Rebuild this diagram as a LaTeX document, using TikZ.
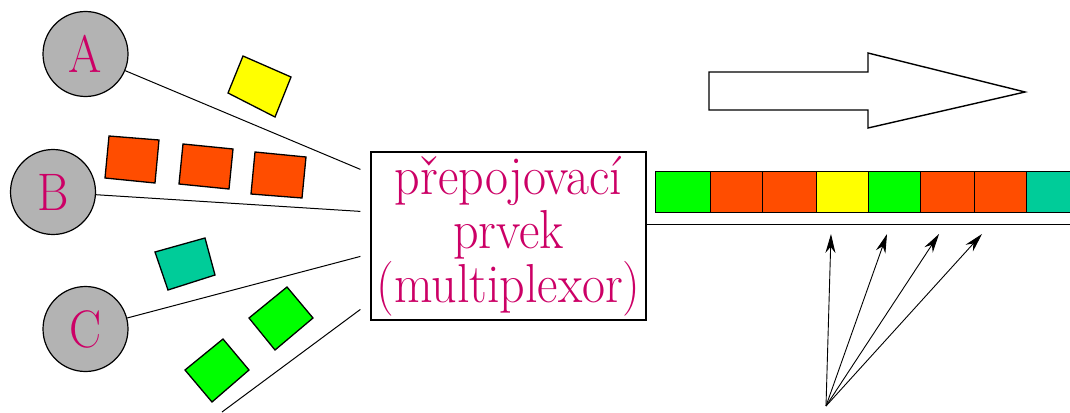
\documentclass[tikz,border=0pt]{standalone}
\usetikzlibrary{arrows.meta,calc}
\definecolor{txtmag}{HTML}{CC0066}
\definecolor{nodegray}{HTML}{B3B3B3}
\definecolor{pkorange}{HTML}{FF4D00}
\definecolor{pkyellow}{HTML}{FFFF00}
\definecolor{pkgreen}{HTML}{00FF00}
\definecolor{pkteal}{HTML}{00CC99}
\tikzset{
  station/.style={circle,draw=black,line width=1.2pt,fill=nodegray,minimum size=85pt,inner sep=0pt,
    text=txtmag,font=\fontsize{48}{48}\selectfont},
  muxbox/.style={rectangle,draw=black,line width=1.2pt,fill=white,minimum width=275pt,minimum height=168pt,
    inner sep=0pt,align=center,text=txtmag,font=\fontsize{49}{54}\selectfont},
  link/.style={draw=black,line width=1pt},
  packet/.style={draw=black,line width=1.3pt},
  cell/.style={draw=black,line width=1pt},
  pointer/.style={draw=black,line width=0.9pt,-{Stealth[length=19pt,width=10pt]}},
  bigarrow/.style={draw=black,line width=1.4pt,fill=white}
}
\begin{document}
\begin{tikzpicture}[x=1pt,y=-1pt]
\useasboundingbox (0,0) rectangle (1070,412);
\fill[white] (0,0) rectangle (1070,412);
% stations
\node[station] (A) at (85.5,54) {\scalebox{1}[1.1]{A}};
\node[station] (B) at (53,192) {\scalebox{1}[1.1]{B}};
\node[station] (C) at (85.5,329) {\scalebox{1}[1.1]{C}};
% multiplexer
\node[muxbox] (mux) at (508.5,236) {\scalebox{1.02}[1.12]{přepojovací}\\\scalebox{1.02}[1.12]{prvek}\\\scalebox{1.02}[1.12]{(multiplexor)}};
% link ends near the box
\coordinate (ea) at ($(mux.north west)+(-10,18)$);
\coordinate (eb) at ($(mux.north west)+(-10,60)$);
\coordinate (ec) at ($(mux.north west)+(-10,105)$);
\coordinate (ed) at ($(mux.north west)+(-10,158)$);
\coordinate (sd) at (222,412);
\draw[link] (A) -- (ea);
\draw[link] (B) -- (eb);
\draw[link] (C) -- (ec);
\draw[link] (sd) -- (ed);
% packets on the links
\draw[packet,fill=pkyellow] (243,56) -- (291,77) -- (275,117) -- (228,93) -- cycle;
\draw[packet,fill=pkorange] (109,136) -- (159,140) -- (155,183) -- (105,178) -- cycle;
\draw[packet,fill=pkorange] (183,144) -- (233,149) -- (229,189) -- (179,184) -- cycle;
\draw[packet,fill=pkorange] (255,152) -- (306,157) -- (302,198) -- (251,194) -- cycle;
\draw[packet,fill=pkteal] (155,252) -- (205,238) -- (215,275) -- (168,290) -- cycle;
\draw[packet,fill=pkgreen] (287,287) -- (313,318) -- (275,350) -- (249,318) -- cycle;
\draw[packet,fill=pkgreen] (223,339) -- (249,370) -- (212,402) -- (185,370) -- cycle;
% output line
\coordinate (lineend) at (1070,224);
\draw[link] ($(mux.east)+(0,-12)$) -- (lineend);
% multiplexed stream
\begin{scope}
\clip (0,0) rectangle (1070,412);
\foreach \xa/\xb/\col in {655/710/pkgreen,710/762/pkorange,762/816/pkorange,816/868/pkyellow,
  868/920/pkgreen,920/974/pkorange,974/1026/pkorange,1026/1090/pkteal}{
  \draw[cell,fill=\col] (\xa,171) rectangle (\xb,212);
}
\end{scope}
% pointers
\coordinate (po) at (826,406);
\coordinate (t1) at (831,234);
\coordinate (t2) at (887,234);
\coordinate (t3) at (939,234);
\coordinate (t4) at (982,234);
\draw[pointer] (po) -- (t1);
\draw[pointer] (po) -- (t2);
\draw[pointer] (po) -- (t3);
\draw[pointer] (po) -- (t4);
% direction arrow
\draw[bigarrow] (709,72) -- (868,72) -- (868,53) -- (1025,92) -- (868,128) -- (868,110) -- (709,110) -- cycle;
\end{tikzpicture}
\end{document}
